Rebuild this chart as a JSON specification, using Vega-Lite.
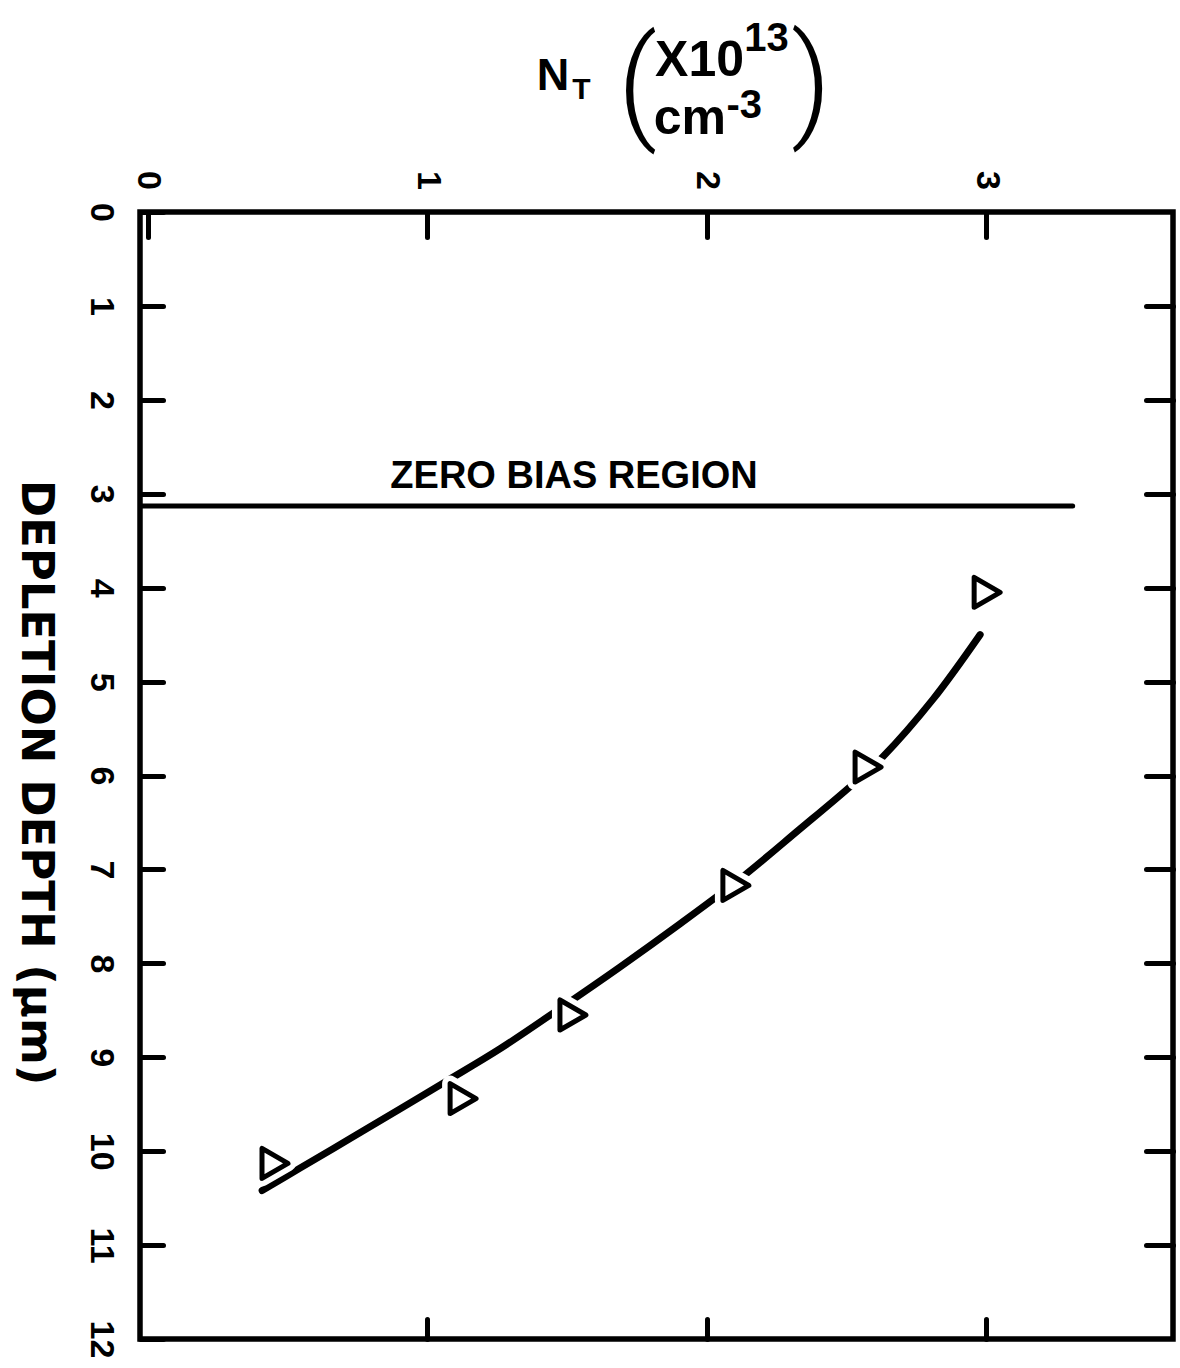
{
  "$schema": "https://vega.github.io/schema/vega-lite/v6.json",
  "width": 1033,
  "height": 1127,
  "autosize": {"type": "none"},
  "padding": {"left": 140, "top": 212, "right": 7, "bottom": 29},
  "background": "white",
  "config": {
    "view": {"stroke": "black", "strokeWidth": 5.5},
    "axis": {"grid": false, "domain": false}
  },
  "resolve": {"axis": {"x": "independent", "y": "independent"}},
  "layer": [
    {
      "data": {"values": [{"n0": -0.02, "n1": 3.31, "d": 3.13}]},
      "mark": {"type": "rule", "stroke": "black", "strokeWidth": 5, "strokeCap": "round"},
      "encoding": {
        "x": {"field": "n0", "type": "quantitative", "scale": {"domain": [-0.027, 3.669], "nice": false, "zero": false}, "axis": null},
        "x2": {"field": "n1"},
        "y": {"field": "d", "type": "quantitative", "scale": {"domain": [0, 12], "reverse": true, "nice": false, "zero": false}, "axis": null}
      }
    },
    {
      "data": {"values": [{"t": "ZERO BIAS REGION", "n": 1.526, "d": 2.938}]},
      "mark": {"type": "text", "font": "Liberation Sans", "fontWeight": "bold", "fontSize": 38, "align": "center", "baseline": "alphabetic", "color": "black"},
      "encoding": {
        "x": {"field": "n", "type": "quantitative", "scale": {"domain": [-0.027, 3.669], "nice": false, "zero": false}, "axis": null},
        "y": {"field": "d", "type": "quantitative", "scale": {"domain": [0, 12], "reverse": true, "nice": false, "zero": false}, "axis": null},
        "text": {"field": "t"}
      }
    },
    {
      "data": {"values": [{"t": "N", "n": 1.451, "d": -1.30}]},
      "mark": {"type": "text", "font": "Liberation Sans", "fontWeight": "bold", "fontSize": 45, "align": "center", "baseline": "alphabetic", "color": "black"},
      "encoding": {
        "x": {"field": "n", "type": "quantitative", "scale": {"domain": [-0.027, 3.669], "nice": false, "zero": false}, "axis": null},
        "y": {"field": "d", "type": "quantitative", "scale": {"domain": [0, 12], "reverse": true, "nice": false, "zero": false}, "axis": null},
        "text": {"field": "t"}
      }
    },
    {
      "data": {"values": [{"t": "T", "n": 1.552, "d": -1.20}]},
      "mark": {"type": "text", "font": "Liberation Sans", "fontWeight": "bold", "fontSize": 30, "align": "center", "baseline": "alphabetic", "color": "black"},
      "encoding": {
        "x": {"field": "n", "type": "quantitative", "scale": {"domain": [-0.027, 3.669], "nice": false, "zero": false}, "axis": null},
        "y": {"field": "d", "type": "quantitative", "scale": {"domain": [0, 12], "reverse": true, "nice": false, "zero": false}, "axis": null},
        "text": {"field": "t"}
      }
    },
    {
      "data": {"values": [{"t": "X10", "n": 1.975, "d": -1.451}, {"t": "cm", "n": 1.94, "d": -0.834}]},
      "mark": {"type": "text", "font": "Liberation Sans", "fontWeight": "bold", "fontSize": 50, "align": "center", "baseline": "alphabetic", "color": "black"},
      "encoding": {
        "x": {"field": "n", "type": "quantitative", "scale": {"domain": [-0.027, 3.669], "nice": false, "zero": false}, "axis": null},
        "y": {"field": "d", "type": "quantitative", "scale": {"domain": [0, 12], "reverse": true, "nice": false, "zero": false}, "axis": null},
        "text": {"field": "t"}
      }
    },
    {
      "data": {"values": [{"t": "13", "n": 2.215, "d": -1.716}, {"t": "-3", "n": 2.135, "d": -1.004}]},
      "mark": {"type": "text", "font": "Liberation Sans", "fontWeight": "bold", "fontSize": 40, "align": "center", "baseline": "alphabetic", "color": "black"},
      "encoding": {
        "x": {"field": "n", "type": "quantitative", "scale": {"domain": [-0.027, 3.669], "nice": false, "zero": false}, "axis": null},
        "y": {"field": "d", "type": "quantitative", "scale": {"domain": [0, 12], "reverse": true, "nice": false, "zero": false}, "axis": null},
        "text": {"field": "t"}
      }
    },
    {
      "data": {"values": [{"t": "(", "n": 1.752, "d": -1.31}, {"t": ")", "n": 2.375, "d": -1.33}]},
      "mark": {"type": "text", "font": "Roboto", "fontWeight": 300, "fontSize": 124, "align": "center", "baseline": "middle", "color": "black"},
      "encoding": {
        "x": {"field": "n", "type": "quantitative", "scale": {"domain": [-0.027, 3.669], "nice": false, "zero": false}, "axis": null},
        "y": {"field": "d", "type": "quantitative", "scale": {"domain": [0, 12], "reverse": true, "nice": false, "zero": false}, "axis": null},
        "text": {"field": "t"}
      }
    },
    {
      "data": {"values": [
        {"n": 2.979, "d": 4.50}, {"n": 2.81, "d": 5.19}, {"n": 2.631, "d": 5.80}, {"n": 2.513, "d": 6.12},
        {"n": 2.334, "d": 6.57}, {"n": 2.12, "d": 7.10}, {"n": 1.905, "d": 7.58}, {"n": 1.69, "d": 8.04},
        {"n": 1.476, "d": 8.48}, {"n": 1.261, "d": 8.91}, {"n": 1.072, "d": 9.25}, {"n": 0.903, "d": 9.55},
        {"n": 0.725, "d": 9.865}, {"n": 0.546, "d": 10.18}, {"n": 0.41, "d": 10.42}
      ]},
      "mark": {"type": "line", "stroke": "black", "strokeWidth": 7, "strokeCap": "round", "interpolate": "catmull-rom"},
      "encoding": {
        "x": {"field": "n", "type": "quantitative", "scale": {"domain": [-0.027, 3.669], "nice": false, "zero": false},
              "axis": {"orient": "top", "values": [0, 1, 2, 3], "title": null, "labelAngle": 90, "labelAlign": "center", "labelBaseline": "middle",
                       "labelFont": "Liberation Sans", "labelFontWeight": "bold", "labelFontSize": 34, "labelColor": "black",
                       "tickSize": -25, "tickWidth": 5, "tickColor": "black", "tickCap": "round", "labelPadding": 57, "labelFlush": false, "labelOverlap": false}},
        "y": {"field": "d", "type": "quantitative", "scale": {"domain": [0, 12], "reverse": true, "nice": false, "zero": false},
              "axis": {"orient": "left", "values": [0, 1, 2, 3, 4, 5, 6, 7, 8, 9, 10, 11, 12], "labelAngle": 90, "labelAlign": "center", "labelBaseline": "middle",
                       "labelFont": "Liberation Sans", "labelFontWeight": "bold", "labelFontSize": 34, "labelColor": "black",
                       "tickSize": -23, "tickWidth": 5, "tickColor": "black", "tickCap": "round", "labelPadding": 63, "labelFlush": false, "labelOverlap": false,
                       "title": "DEPLETION DEPTH (μm)", "titleAngle": 90, "titleFont": "DejaVu Sans", "titleFontWeight": "bold", "titleFontSize": 45,
                       "titleColor": "black", "titleAlign": "center", "titleBaseline": "middle", "titleX": -105, "titleY": 570}},
        "order": {"field": "d", "type": "quantitative"}
      }
    },
    {
      "data": {"values": [
        {"n": 3.004, "d": 4.05}, {"n": 2.578, "d": 5.91}, {"n": 2.105, "d": 7.17},
        {"n": 1.522, "d": 8.55}, {"n": 1.129, "d": 9.44}, {"n": 0.456, "d": 10.13}
      ]},
      "mark": {"type": "point", "shape": "triangle-right", "size": 900, "filled": true, "fill": "white", "stroke": "white", "strokeWidth": 16, "opacity": 1, "strokeJoin": "round"},
      "encoding": {
        "x": {"field": "n", "type": "quantitative", "scale": {"domain": [-0.027, 3.669], "nice": false, "zero": false}, "axis": null},
        "y": {"field": "d", "type": "quantitative", "scale": {"domain": [0, 12], "reverse": true, "nice": false, "zero": false}, "axis": null}
      }
    },
    {
      "data": {"values": [
        {"n": 3.004, "d": 4.05}, {"n": 2.578, "d": 5.91}, {"n": 2.105, "d": 7.17},
        {"n": 1.522, "d": 8.55}, {"n": 1.129, "d": 9.44}, {"n": 0.456, "d": 10.13}
      ]},
      "mark": {"type": "point", "shape": "triangle-right", "size": 900, "filled": true, "fill": "white", "stroke": "black", "strokeWidth": 5, "opacity": 1, "strokeJoin": "round"},
      "encoding": {
        "x": {"field": "n", "type": "quantitative", "scale": {"domain": [-0.027, 3.669], "nice": false, "zero": false},
              "axis": {"orient": "bottom", "values": [1, 2, 3], "labels": false, "title": null, "tickSize": -20, "tickWidth": 5, "tickColor": "black", "tickCap": "round"}},
        "y": {"field": "d", "type": "quantitative", "scale": {"domain": [0, 12], "reverse": true, "nice": false, "zero": false},
              "axis": {"orient": "right", "values": [1, 2, 3, 4, 5, 6, 7, 8, 9, 10, 11], "labels": false, "title": null, "tickSize": -27, "tickWidth": 5, "tickColor": "black", "tickCap": "round"}}
      }
    }
  ]
}
